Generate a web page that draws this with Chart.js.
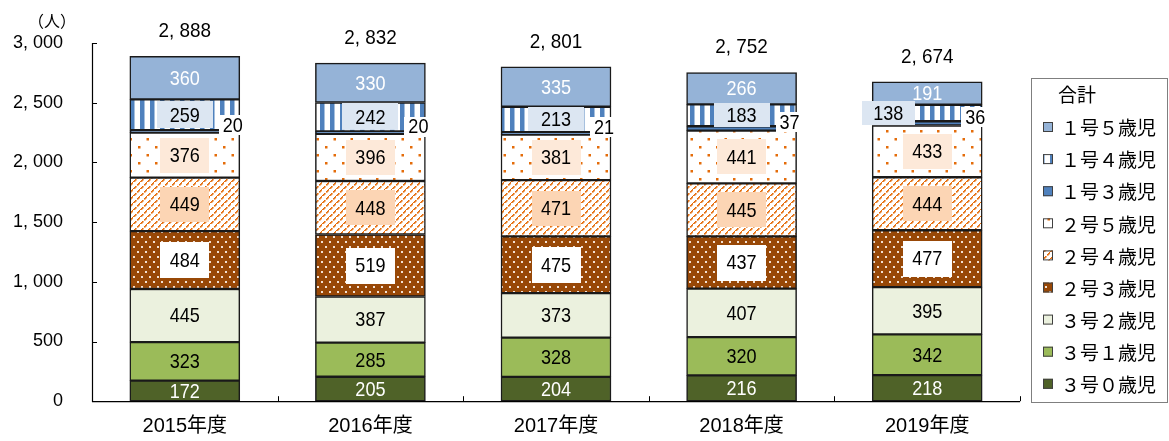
<!DOCTYPE html>
<html><head><meta charset="utf-8">
<script src="https://cdn.jsdelivr.net/npm/chart.js@4.4.1/dist/chart.umd.min.js"></script>
<style>html,body{margin:0;padding:0;background:#fff;}#wrap{width:1169px;height:441px;}</style>
</head><body><div id="wrap"><canvas id="c" width="1169" height="441"></canvas></div>
<script>
// ---- data ----
const categories = ['2015年度','2016年度','2017年度','2018年度','2019年度'];
const seriesNames = ['３号０歳児','３号１歳児','３号２歳児','２号３歳児','２号４歳児','２号５歳児','１号３歳児','１号４歳児','１号５歳児'];
const g3age0 = [172,205,204,216,218];
const g3age1 = [323,285,328,320,342];
const g3age2 = [445,387,373,407,395];
const g2age3 = [484,519,475,437,477];
const g2age4 = [449,448,471,445,444];
const g2age5 = [376,396,381,441,433];
const g1age3 = [20,20,21,37,36];
const g1age4 = [259,242,213,183,138];
const g1age5 = [360,330,335,266,191];
const totals = [2888,2832,2801,2752,2674];
const totalLabel = '合計';
const yTickLabels = ['0','500','1, 000','1, 500','2, 000','2, 500','3, 000'];
const unitLabel = '（人）';

// ---- patterns ----
function pat(w,h,bg,draw){
  const c=document.createElement('canvas');c.width=w;c.height=h;
  const g=c.getContext('2d');g.fillStyle=bg;g.fillRect(0,0,w,h);draw(g);
  return g.createPattern(c,'repeat');
}
const brownDots = pat(8,10,'#984807',g=>{g.fillStyle='#F4E2D4';g.fillRect(1,1,2,2);g.fillRect(5,6,2,2);});
const orangeDiag = pat(7,7,'#ffffff',g=>{g.fillStyle='#E46C0A';
  [[0,6],[1,5],[2,4],[4,2],[5,1],[6,0]].forEach(p=>g.fillRect(p[0],p[1],1.6,1.6));});
const sparseDots = pat(17,16,'#ffffff',g=>{g.fillStyle='#E46C0A';g.fillRect(2,2,2.5,2.5);g.fillRect(10.5,10,2.5,2.5);});
const vStripes = pat(10,4,'#ffffff',g=>{g.fillStyle='#4F81BD';g.fillRect(0,0,4.5,4);});

const fills = ['#4F6228','#9BBB59','#EBF1DE',brownDots,orangeDiag,sparseDots,'#4F81BD',vStripes,'#95B3D7'];
const seriesData = [g3age0,g3age1,g3age2,g2age3,g2age4,g2age5,g1age3,g1age4,g1age5];

// label styling per series
const labelStyle = [
  {color:'#fff'},
  {color:'#000'},
  {color:'#000'},
  {color:'#000',box:'#ffffff',w:49,h:36},
  {color:'#000',box:'#FCD5B4',w:49,h:35},
  {color:'#000',box:'#FDE9D9',w:49,h:35},
  {color:'#000',box:'#ffffff',w:28,h:20,side:true},
  {color:'#000',box:'#DCE6F2',w:56,h:27,fit:true,shift:[0,0,0,0,-39]},
  {color:'#fff'}
];
const numFont = "21px 'Liberation Sans', sans-serif";
const cjk = "'Noto Sans CJK JP', sans-serif";

function narrowText(ctx,s,x,y,sx){
  ctx.save();ctx.translate(x,y);ctx.scale(sx,1);ctx.fillText(s,0,0);ctx.restore();
}

const labelPlugin = {
  id:'labels',
  afterDatasetsDraw(chart){
    const ctx=chart.ctx, ca=chart.chartArea, ys=chart.scales.y, xs=chart.scales.x;
    ctx.save();
    // axis tick marks (inside)
    ctx.strokeStyle='#000';ctx.lineWidth=1;
    ys.ticks.forEach(t=>{const py=Math.round(ys.getPixelForValue(t.value))+0.5;
      ctx.beginPath();ctx.moveTo(ca.left,py);ctx.lineTo(ca.left+5,py);ctx.stroke();});
    for(let i=0;i<categories.length;i++){
      const a=xs.getPixelForValue(i), b=i<categories.length-1?xs.getPixelForValue(i+1):a+(a-xs.getPixelForValue(i-1));
      const px=Math.round((a+b)/2)+0.5;
      ctx.beginPath();ctx.moveTo(px,ca.bottom);ctx.lineTo(px,ca.bottom-5);ctx.stroke();
    }
    // axis lines
    ctx.lineWidth=1.2;
    ctx.beginPath();ctx.moveTo(ca.left+0.5,ca.top);ctx.lineTo(ca.left+0.5,ca.bottom+0.5);ctx.lineTo(ca.right,ca.bottom+0.5);ctx.stroke();

    ctx.textAlign='center';ctx.textBaseline='middle';
    chart.data.datasets.forEach((ds,di)=>{
      const meta=chart.getDatasetMeta(di), st=labelStyle[di];
      meta.data.forEach((el,i)=>{
        const v=ds.data[i];
        const top=Math.min(el.y,el.base), bot=Math.max(el.y,el.base), segH=bot-top;
        let cx=el.x, cy=(top+bot)/2, w=st.w, h=st.h;
        if(st.side){cx=el.x+el.width/2-7;cy=cy-6;}
        if(st.fit){h=Math.max(24,Math.min(27,segH-2)); if(st.shift[i]){cx+=st.shift[i];w=53;}}
        if(st.box){ctx.fillStyle=st.box;ctx.fillRect(Math.round(cx-w/2),Math.round(cy-h/2),w,h);}
        ctx.fillStyle=st.color;ctx.font=numFont;
        narrowText(ctx,String(v),cx,cy+1,0.86);
      });
    });
    // totals
    const topMeta=chart.getDatasetMeta(chart.data.datasets.length-1);
    ctx.fillStyle='#000';ctx.font=numFont;
    totals.forEach((t,i)=>{
      const s=String(t).replace(/\B(?=(\d{3})+(?!\d))/g,', ');
      narrowText(ctx,s,topMeta.data[i].x,ys.getPixelForValue(t)-25,0.9);
    });
    // unit label
    ctx.font="16px "+cjk;ctx.fillText(unitLabel,52,21);
    // legend
    ctx.strokeStyle='#7f7f7f';ctx.lineWidth=1;
    ctx.strokeRect(1031.5,78.5,136,324);
    ctx.textAlign='left';ctx.font="19px "+cjk;ctx.fillStyle='#000';
    ctx.fillText(totalLabel,1058,95);
    for(let k=0;k<seriesNames.length;k++){
      const di=seriesNames.length-1-k, y=127+k*32.1;
      ctx.fillStyle=fills[di];ctx.fillRect(1043,y-5,10,10);
      ctx.strokeStyle='#404040';ctx.strokeRect(1043.5,y-4.5,9,9);
      ctx.fillStyle='#000';ctx.fillText(seriesNames[di],1061,y+1);
    }
    ctx.restore();
  }
};

new Chart(document.getElementById('c'),{
  type:'bar',
  data:{labels:categories,
    datasets:seriesData.map((d,i)=>({label:seriesNames[i],data:d,backgroundColor:fills[i],
      borderColor:'#1a1a1a',borderWidth:1.5,borderSkipped:false,barThickness:110}))},
  options:{
    responsive:false,animation:false,devicePixelRatio:1,
    layout:{padding:{top:43,right:149,left:0,bottom:0}},
    plugins:{legend:{display:false},tooltip:{enabled:false}},
    scales:{
      x:{stacked:true,grid:{display:false,drawTicks:false},border:{display:false},
        ticks:{padding:13,color:'#000',font:{family:"'Liberation Sans', 'Noto Sans CJK JP'",size:20}},
        afterFit(s){s.height=38;}},
      y:{stacked:true,min:0,max:3000,grid:{display:false,drawTicks:false},border:{display:false},
        ticks:{stepSize:500,padding:29,color:'#000',font:{family:"'Liberation Sans'",size:18},
          callback:(v,i)=>yTickLabels[i]},
        afterFit(s){s.width=92;}}
    }
  },
  plugins:[labelPlugin]
});
</script></body></html>
